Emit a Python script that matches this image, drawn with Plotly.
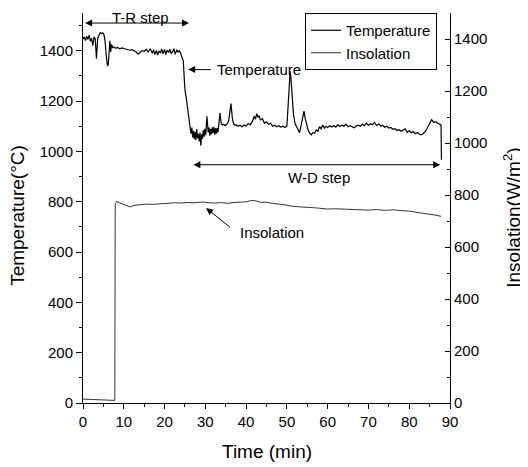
import plotly.graph_objects as go

# ---- Temperature (deg C), left axis ----
temp_t = [0.0, 0.3, 0.6, 0.9, 1.2, 1.5, 1.8, 2.1, 2.4, 2.7, 3.0, 3.3, 3.6, 3.9, 4.2, 4.5, 4.8, 5.1,
          5.4, 5.7, 6.0, 6.2, 6.4, 6.6, 6.8, 7.0, 7.3, 7.6, 8.0, 8.5, 9.0, 9.5, 10.0, 10.5, 11.0,
          11.5, 12.0, 12.5, 13.0, 13.5, 14.0, 14.5, 15.0, 15.5, 16.0, 16.5, 17.0, 17.3, 17.6, 18.0,
          18.3, 18.6, 19.0, 19.3, 19.6, 20.0, 20.3, 20.6, 21.0, 21.3, 21.6, 22.0, 22.3, 22.6, 23.0,
          23.3, 23.6, 24.0, 24.3, 24.6, 24.8, 25.0, 25.3, 25.6, 26.0, 26.3, 26.5, 26.7, 26.9, 27.1,
          27.3, 27.5, 27.7, 27.9, 28.1, 28.3, 28.5, 28.7, 28.9, 29.1, 29.3, 29.5, 29.7, 29.9, 30.1,
          30.4, 30.7, 30.9, 31.1, 31.3, 31.5, 31.7, 31.9, 32.1, 32.3, 32.5, 32.7, 32.9, 33.1, 33.4,
          33.6, 33.9, 34.2, 34.5, 34.8, 35.1, 35.4, 35.7, 36.0, 36.3, 36.6, 36.9, 37.2, 37.5, 38.0,
          38.5, 39.0, 39.5, 40.0, 40.5, 41.0, 41.5, 42.0, 42.3, 42.6, 42.9, 43.2, 43.5, 44.0, 44.5,
          45.0, 45.5, 46.0, 46.5, 47.0, 47.5, 48.0, 48.5, 49.0, 49.5, 50.0, 50.2, 50.5, 50.8, 51.0,
          51.3, 51.6, 52.0, 52.4, 52.8, 53.1, 53.4, 53.7, 54.0, 54.2, 54.5, 54.8, 55.2, 55.6, 56.0,
          56.4, 56.8, 57.2, 57.6, 58.0, 58.4, 58.8, 59.2, 59.6, 60.0, 60.5, 61.0, 61.5, 62.0, 62.5,
          63.0, 63.5, 64.0, 64.5, 65.0, 65.5, 66.0, 66.5, 67.0, 67.5, 68.0, 68.5, 69.0, 69.5, 70.0,
          70.5, 71.0, 71.5, 72.0, 72.5, 73.0, 73.5, 74.0, 74.5, 75.0, 75.5, 76.0, 76.5, 77.0, 77.5,
          78.0, 78.5, 79.0, 79.5, 80.0, 80.5, 81.0, 81.5, 82.0, 82.5, 83.0, 83.5, 84.0, 84.5, 85.0,
          85.5, 86.0, 86.5, 87.0, 87.4, 87.8, 87.9]
temp_v = [1447, 1455, 1440, 1458, 1445, 1462, 1438, 1450, 1420, 1455, 1448, 1368, 1450, 1465, 1472,
          1468, 1471, 1466, 1440, 1380, 1340, 1345, 1410, 1440, 1395, 1425, 1412, 1415, 1410, 1413,
          1408, 1411, 1409, 1407, 1405, 1402, 1404, 1400, 1396, 1386, 1395, 1400, 1398, 1405, 1395,
          1408, 1390, 1404, 1385, 1401, 1383, 1398, 1392, 1407, 1388, 1405, 1385, 1402, 1393, 1406,
          1389, 1397, 1408, 1386, 1404, 1395, 1400, 1388, 1372, 1360, 1300, 1245, 1215, 1170, 1120,
          1090, 1070, 1095, 1055, 1082, 1048, 1078, 1045, 1088, 1052, 1070, 1040, 1075, 1023, 1068,
          1050, 1085, 1058, 1090, 1064, 1139, 1075, 1095, 1062, 1090, 1068, 1096, 1072, 1098, 1066,
          1092, 1070, 1094, 1075, 1120, 1152, 1110, 1105, 1108, 1102, 1106, 1110, 1120, 1150, 1190,
          1135, 1110, 1104, 1106, 1100, 1104, 1098, 1105, 1101, 1110, 1106, 1118, 1140, 1128, 1150,
          1135, 1142, 1125, 1130, 1112, 1118, 1108, 1112, 1100, 1104, 1098, 1102, 1097, 1100, 1095,
          1100, 1150, 1260, 1318, 1290, 1230, 1150, 1110, 1100, 1085, 1074, 1100, 1120, 1140, 1160,
          1130, 1110, 1085, 1072, 1066, 1075, 1072, 1085, 1080, 1098, 1090, 1105, 1092, 1100, 1095,
          1102, 1097, 1103, 1096, 1106, 1099, 1104, 1100, 1108, 1098, 1102, 1099, 1094, 1101, 1104,
          1100, 1108, 1102, 1112, 1104, 1110, 1106, 1115, 1103, 1109, 1100, 1104, 1096, 1100, 1093,
          1095, 1088, 1090, 1083, 1086, 1080, 1084, 1090, 1076, 1082, 1074, 1079, 1070, 1075, 1068,
          1066, 1072, 1080, 1095, 1110, 1126, 1115, 1118, 1112, 1110, 1105, 967]

# ---- Insolation (W/m2), right axis ----
ins_t = [0.0, 2.0, 4.0, 6.0, 7.8, 7.9, 8.2, 9.0, 10.0, 11.0, 11.6, 12.5, 14.0, 15.5, 17.0, 18.5,
         19.7, 21.0, 22.5, 24.0, 25.5, 27.0, 28.5, 29.5, 31.0, 32.5, 34.0, 35.3, 37.0, 38.5, 40.0,
         41.4, 42.5, 43.5, 45.0, 46.5, 48.0, 49.5, 51.6, 53.5, 55.5, 57.5, 59.8, 62.0, 64.0, 66.0,
         68.0, 70.0, 72.0, 74.0, 76.1, 78.0, 80.0, 82.7, 84.5, 86.0, 87.8]
ins_v = [15, 13, 12, 11, 10, 760, 775, 770, 765, 758, 754, 760, 763, 765, 764, 767, 767, 768, 770,
         769, 771, 770, 772, 773, 770, 769, 771, 768, 771, 772, 774, 779, 777, 772, 772, 768, 766,
         762, 756, 755, 752, 750, 746, 747, 745, 744, 743, 742, 744, 741, 743, 740, 738, 731, 728,
         724, 718]

x_title = "Time (min)"
y_title = "Temperature(\u00b0C)"
y2_title = "Insolation(W/m<sup>2</sup>)"

FONT = "Liberation Sans, Arial, sans-serif"

fig = go.Figure()
fig.add_trace(go.Scatter(x=temp_t, y=temp_v, mode="lines", name="Temperature",
                         line=dict(color="#000000", width=1.2)))
fig.add_trace(go.Scatter(x=ins_t, y=ins_v, mode="lines", name="Insolation", yaxis="y2",
                         line=dict(color="#333333", width=1)))

ann_font = dict(family=FONT, size=15, color="#000")
title_font = dict(family=FONT, size=19, color="#000")
annotations = [
    # T-R step double arrow
    dict(x=26.0, y=1510, ax=0.15, ay=1510, xref="x", yref="y", axref="x", ayref="y",
         text="", showarrow=True, arrowhead=2, startarrowhead=2, arrowside="end+start",
         arrowsize=1.4, startarrowsize=1.4, arrowwidth=1, arrowcolor="#000"),
    dict(x=14.0, y=1532, xref="x", yref="y", text="T-R step", showarrow=False, font=ann_font),
    # Temperature arrow
    dict(x=25.8, y=1325, ax=31.7, ay=1325, xref="x", yref="y", axref="x", ayref="y",
         text="", showarrow=True, arrowhead=2, arrowsize=1.4, arrowwidth=1, arrowcolor="#000"),
    dict(x=32.4, y=1325, xref="x", yref="y", text="Temperature", showarrow=False,
         xanchor="left", font=ann_font),
    # W-D step double arrow
    dict(x=87.6, y=947, ax=26.7, ay=947, xref="x", yref="y", axref="x", ayref="y",
         text="", showarrow=True, arrowhead=2, startarrowhead=2, arrowside="end+start",
         arrowsize=1.4, startarrowsize=1.4, arrowwidth=1, arrowcolor="#000"),
    dict(x=57.8, y=898, xref="x", yref="y", text="W-D step", showarrow=False, font=ann_font),
    # Insolation arrow
    dict(x=30.2, y=775, ax=36.4, ay=694, xref="x", yref="y", axref="x", ayref="y",
         text="", showarrow=True, arrowhead=2, arrowsize=1.4, arrowwidth=1, arrowcolor="#000"),
    dict(x=37.9, y=678, xref="x", yref="y", text="Insolation", showarrow=False,
         xanchor="left", font=ann_font),
    # axis titles
    dict(x=0.502, y=-0.124, xref="paper", yref="paper", text=x_title, showarrow=False,
         font=title_font, xanchor="center", yanchor="middle"),
    dict(x=-0.177, y=0.48, xref="paper", yref="paper", text=y_title, showarrow=False,
         font=title_font, textangle=-90, xanchor="center", yanchor="middle"),
    dict(x=1.169, y=0.475, xref="paper", yref="paper", text=y2_title, showarrow=False,
         font=title_font, textangle=-90, xanchor="center", yanchor="middle"),
]

axis_common = dict(showgrid=False, zeroline=False, showline=True, linecolor="#000", linewidth=1,
                   tickcolor="#000", automargin=False,
                   tickfont=dict(family=FONT, size=15, color="#000"))

# The page body adds an 8px margin, so the figure is drawn 8px in from the window corner.
fig.update_layout(
    width=520, height=459,
    margin=dict(l=75, r=78, t=5, b=64, autoexpand=False),
    paper_bgcolor="white", plot_bgcolor="white",
    font=dict(family=FONT, size=15, color="#000"),
    showlegend=True,
    legend=dict(x=0.605, y=1.0, xanchor="left", yanchor="top", bgcolor="white",
                bordercolor="#000", borderwidth=1, font=dict(family=FONT, size=15, color="#000"),
                tracegroupgap=0),
    xaxis=dict(range=[0, 90], dtick=10, tick0=0, ticks="outside", ticklen=5,
               minor=dict(dtick=5, ticks="outside", ticklen=3, tickcolor="#000"),
               **axis_common),
    yaxis=dict(range=[0, 1550], dtick=200, tick0=0, ticks="outside", ticklen=6,
               minor=dict(dtick=100, ticks="outside", ticklen=3, tickcolor="#000"),
               **axis_common),
    yaxis2=dict(range=[0, 1500], dtick=200, tick0=0, ticks="inside", ticklen=5,
                overlaying="y", side="right",
                minor=dict(dtick=100, ticks="inside", ticklen=3, tickcolor="#000"),
                **axis_common),
    annotations=annotations,
)

fig.write_html("out.html")
